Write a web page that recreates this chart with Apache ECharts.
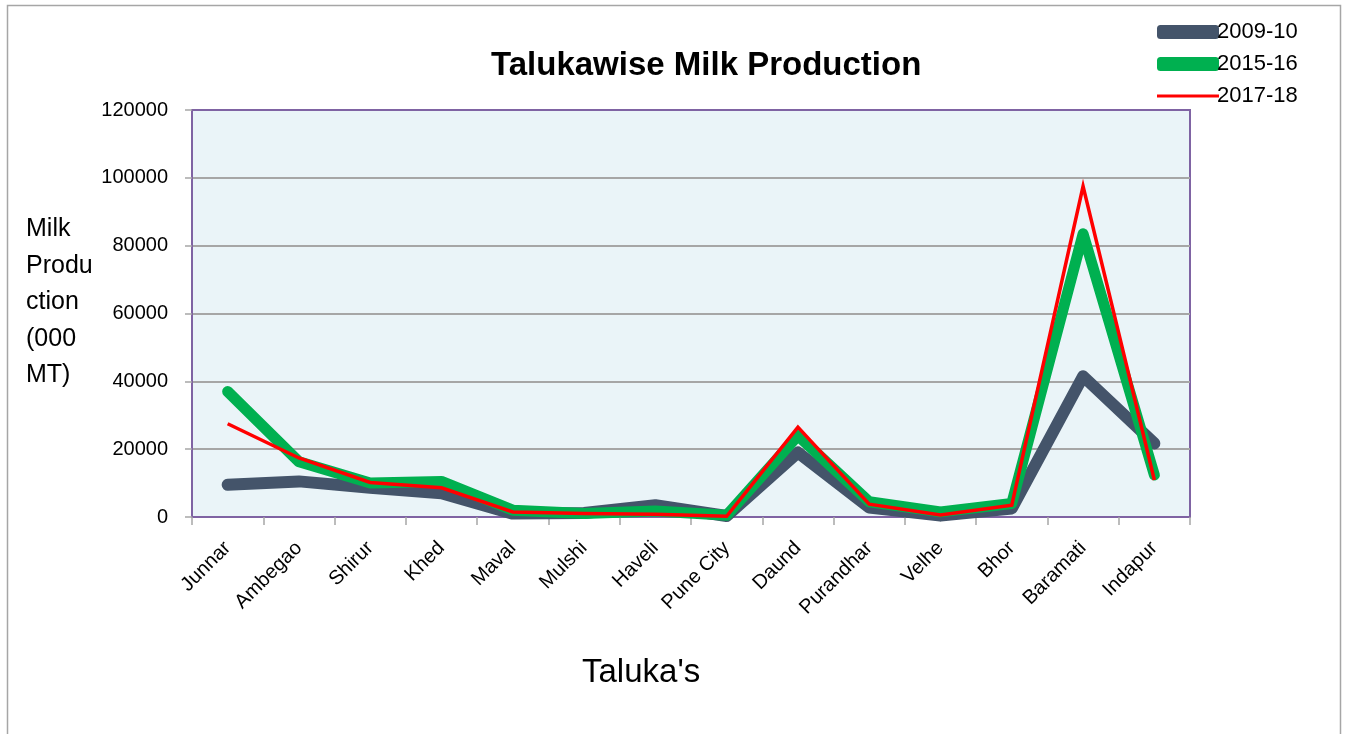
<!DOCTYPE html>
<html><head><meta charset="utf-8">
<script src="https://cdn.jsdelivr.net/npm/echarts@6/dist/echarts.min.js"></script>
<style>html,body{margin:0;padding:0;background:#fff}#c{width:1347px;height:734px}</style>
</head><body><div id="c"></div>
<script>
const categories = ['Junnar','Ambegao','Shirur','Khed','Maval','Mulshi','Haveli','Pune City','Daund','Purandhar','Velhe','Bhor','Baramati','Indapur'];
const s2009 = [9500, 10500, 8600, 7000, 1000, 1200, 3500, 300, 19000, 2800, 400, 2500, 41500, 21700];
const s2015 = [37000, 16300, 10000, 10500, 2000, 1000, 1800, 500, 24000, 4500, 1500, 4000, 83500, 12400];
const s2017 = [27500, 17400, 10200, 8600, 1500, 1000, 800, 200, 26500, 3800, 600, 3500, 97500, 10900];
const yTicks = [0, 20000, 40000, 60000, 80000, 100000, 120000];

const font = 'Liberation Sans, Arial, sans-serif';
const chart = echarts.init(document.getElementById('c'));
chart.setOption({
  animation: false,
  title: {
    text: 'Talukawise Milk Production', left: 486, top: 44,
    textStyle: { fontFamily: font, fontWeight: 'bold', fontSize: 33, color: '#000' }
  },
  legend: {
    orient: 'vertical', left: 1152, top: 16, itemGap: 10, itemWidth: 62, itemHeight: 14,
    textStyle: { fontFamily: font, fontSize: 22, color: '#000', padding: [0, 0, 0, -7] },
    icon: 'roundRect',
    data: [
      { name: '2009-10', itemStyle: { color: '#44546a' } },
      { name: '2015-16', itemStyle: { color: '#00b050' } },
      { name: '2017-18', icon: 'path://M0,6 L60,6 L60,9 L0,9 Z', itemStyle: { color: '#ff0000' } }
    ]
  },
  graphic: [
    { type: 'rect', shape: { x: 7.5, y: 5.5, width: 1333, height: 740 }, style: { fill: 'none', stroke: '#a6a6a6', lineWidth: 1.5 }, z: -1 },
    { type: 'text', left: 26, top: 211, style: { text: 'Milk\nProdu\nction\n(000\nMT)', fontFamily: font, fontSize: 25, lineHeight: 36.5, fill: '#000' } },
    { type: 'text', left: 582, top: 656, style: { text: "Taluka's", fontFamily: font, fontSize: 33, fill: '#000' } }
  ],
  grid: { left: 192, right: 157, top: 110, bottom: 217, show: true, backgroundColor: '#eaf4f8', borderColor: '#7f63a3', borderWidth: 2 },
  xAxis: {
    type: 'category', data: categories, boundaryGap: true,
    axisLine: { lineStyle: { color: '#7f63a3', width: 2 } },
    axisTick: { show: true, alignWithLabel: false, length: 8, lineStyle: { color: '#a6a6a6', width: 1.5 } },
    axisLabel: { rotate: 45, fontFamily: font, fontSize: 20, color: '#000', margin: 28, interval: 0 }
  },
  yAxis: {
    type: 'value', min: 0, max: 120000, interval: 20000,
    axisLine: { show: true, lineStyle: { color: '#7f63a3', width: 2 } },
    axisTick: { show: true, length: 7, lineStyle: { color: '#a6a6a6', width: 1.5 } },
    axisLabel: { fontFamily: font, fontSize: 20, color: '#000', margin: 24,
      formatter: v => yTicks.includes(v) ? String(v) : '' },
    splitLine: { showMinLine: false, showMaxLine: false, lineStyle: { color: '#a6a6a6', width: 2 } }
  },
  series: [
    { name: '2009-10', type: 'line', data: s2009, symbol: 'none', lineStyle: { color: '#44546a', width: 12, cap: 'round', join: 'round' }, itemStyle: { color: '#44546a' } },
    { name: '2015-16', type: 'line', data: s2015, symbol: 'none', lineStyle: { color: '#00b050', width: 11, cap: 'round', join: 'round' }, itemStyle: { color: '#00b050' } },
    { name: '2017-18', type: 'line', data: s2017, symbol: 'none', lineStyle: { color: '#ff0000', width: 3.5, join: 'miter' }, itemStyle: { color: '#ff0000' } }
  ]
});
</script></body></html>
